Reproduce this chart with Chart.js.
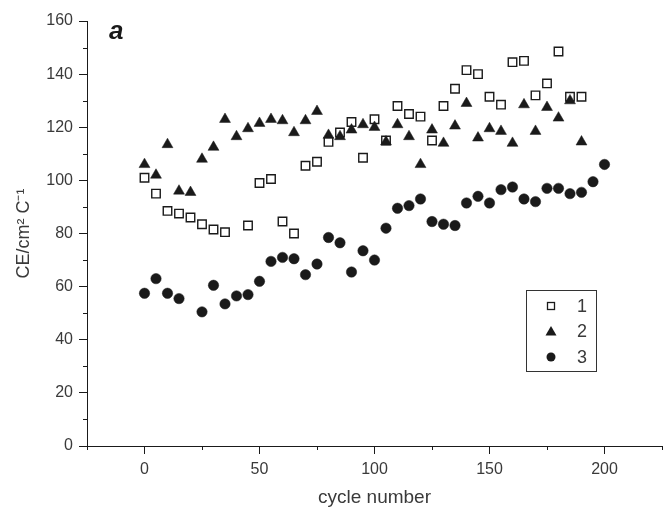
<!DOCTYPE html>
<html>
<head>
<meta charset="utf-8">
<script src="https://cdn.jsdelivr.net/npm/chart.js@4.4.1/dist/chart.umd.min.js"></script>
<style>
  html, body { margin: 0; padding: 0; background: #fff; overflow: hidden; }
  #wrap { width: 663px; height: 509px; }
</style>
</head>
<body>
<div id="wrap"><canvas id="ceChart" width="663" height="509"></canvas></div>
<script>
// CE per cycle, three samples
const cycles1 = [0, 5, 10, 15, 20, 25, 30, 35, 45, 50, 55, 60, 65, 70, 75, 80, 85, 90, 95, 100,
                 105, 110, 115, 120, 125, 130, 135, 140, 145, 150, 155, 160, 165, 170, 175, 180, 185, 190];
const ce1 = [101, 95, 88.5, 87.5, 86, 83.5, 81.5, 80.5, 83, 99, 100.5, 84.5, 80, 105.5, 107, 114.5, 118, 122, 108.5, 123,
             115, 128, 125, 124, 115, 128, 134.5, 141.5, 140, 131.5, 128.5, 144.5, 145, 132, 136.5, 148.5, 131.5, 131.5];

const cycles2 = [0, 5, 10, 15, 20, 25, 30, 35, 40, 45, 50, 55, 60, 65, 70, 75, 80, 85, 90, 95,
                 100, 105, 110, 115, 120, 125, 130, 135, 140, 145, 150, 155, 160, 165, 170, 175, 180, 185, 190];
const ce2 = [106, 102, 113.5, 96, 95.5, 108, 112.5, 123, 116.5, 119.5, 121.5, 123, 122.5, 118, 122.5, 126, 117, 116.5, 119, 121,
             120, 114.5, 121, 116.5, 106, 119, 114, 120.5, 129, 116, 119.5, 118.5, 114, 128.5, 118.5, 127.5, 123.5, 130, 114.5];

const cycles3 = [0, 5, 10, 15, 25, 30, 35, 40, 45, 50, 55, 60, 65, 70, 75, 80, 85, 90, 95, 100,
                 105, 110, 115, 120, 125, 130, 135, 140, 145, 150, 155, 160, 165, 170, 175, 180, 185, 190, 195, 200];
const ce3 = [57.5, 63, 57.5, 55.5, 50.5, 60.5, 53.5, 56.5, 57, 62, 69.5, 71, 70.5, 64.5, 68.5, 78.5, 76.5, 65.5, 73.5, 70,
             82, 89.5, 90.5, 93, 84.5, 83.5, 83, 91.5, 94, 91.5, 96.5, 97.5, 93, 92, 97, 97, 95, 95.5, 99.5, 106];

const seriesNames = ['1', '2', '3'];

// axis ticks
const xMajorTicks = [0, 50, 100, 150, 200];
const xMinorTicks = [-25, 25, 75, 125, 175, 225];
const yMajorTicks = [0, 20, 40, 60, 80, 100, 120, 140, 160];
const yMinorTicks = [10, 30, 50, 70, 90, 110, 130, 150];

const ink = '#1a1a1a';
const textGrey = '#3a3a3a';
const fontFamily = "'Liberation Sans', Arial, sans-serif";

function toPoints(xs, ys) {
    return xs.map((x, i) => ({ x: x, y: ys[i] }));
}

// short ticks between the labelled ones
const minorTicksPlugin = {
    id: 'minorTicks',
    afterDraw(chart) {
        const ctx = chart.ctx;
        const xs = chart.scales.x;
        const ys = chart.scales.y;
        ctx.save();
        ctx.strokeStyle = ink;
        ctx.lineWidth = 1;
        ctx.beginPath();
        xMinorTicks.forEach(v => {
            const px = Math.round(xs.getPixelForValue(v)) + 0.5;
            ctx.moveTo(px, ys.bottom);
            ctx.lineTo(px, ys.bottom + 4);
        });
        yMinorTicks.forEach(v => {
            const py = Math.round(ys.getPixelForValue(v)) + 0.5;
            ctx.moveTo(xs.left, py);
            ctx.lineTo(xs.left - 4, py);
        });
        ctx.stroke();
        ctx.restore();
    }
};

// panel letter and boxed legend
const panelPlugin = {
    id: 'panel',
    afterDraw(chart) {
        const ctx = chart.ctx;
        ctx.save();
        ctx.fillStyle = ink;
        ctx.font = "italic bold 26px " + fontFamily;
        ctx.textBaseline = 'alphabetic';
        ctx.fillText('a', 109, 39);

        // legend box
        const bx = 526.5, by = 290.5, bw = 70, bh = 81;
        ctx.strokeStyle = '#333';
        ctx.lineWidth = 1;
        ctx.strokeRect(bx, by, bw, bh);

        const mx = 551;
        const rows = [306, 331.5, 357];
        // square
        ctx.lineWidth = 1.3;
        ctx.strokeStyle = ink;
        ctx.strokeRect(mx - 3.5, rows[0] - 3.5, 7, 7);
        // triangle
        ctx.beginPath();
        ctx.moveTo(mx, rows[1] - 5.5);
        ctx.lineTo(mx + 5.5, rows[1] + 4);
        ctx.lineTo(mx - 5.5, rows[1] + 4);
        ctx.closePath();
        ctx.fill();
        // circle
        ctx.beginPath();
        ctx.arc(mx, rows[2], 4.5, 0, Math.PI * 2);
        ctx.fill();

        ctx.fillStyle = textGrey;
        ctx.font = "18px " + fontFamily;
        ctx.textBaseline = 'middle';
        seriesNames.forEach((name, i) => ctx.fillText(name, 577, rows[i] + 1));
        ctx.restore();
    }
};

const ceCtx = document.getElementById('ceChart').getContext('2d');
new Chart(ceCtx, {
    type: 'scatter',
    data: {
        datasets: [
            {
                label: seriesNames[0],
                data: toPoints(cycles1, ce1),
                pointStyle: 'rect',
                pointRadius: 6,
                borderWidth: 1.4,
                borderColor: ink,
                backgroundColor: 'rgba(0,0,0,0)'
            },
            {
                label: seriesNames[1],
                data: toPoints(cycles2, ce2),
                pointStyle: 'triangle',
                pointRadius: 6.3,
                borderWidth: 0.5,
                borderColor: ink,
                backgroundColor: ink
            },
            {
                label: seriesNames[2],
                data: toPoints(cycles3, ce3),
                pointStyle: 'circle',
                pointRadius: 5.2,
                borderWidth: 0.5,
                borderColor: ink,
                backgroundColor: ink
            }
        ]
    },
    options: {
        responsive: false,
        animation: false,
        layout: {
            autoPadding: false, // otherwise the point radius eats into the right edge
            padding: { top: 21, right: 1, left: 0, bottom: 0 }
        },
        plugins: {
            legend: { display: false },
            tooltip: { enabled: false }
        },
        scales: {
            x: {
                type: 'linear',
                min: -25,
                max: 225,
                afterBuildTicks: scale => { scale.ticks = xMajorTicks.map(v => ({ value: v })); },
                afterFit: scale => {
                    scale.height = 63;
                    scale.paddingLeft = 0;
                    scale.paddingRight = 0;
                },
                grid: { drawOnChartArea: false, drawTicks: true, tickLength: 8, color: ink },
                border: { display: true, color: ink, width: 1 },
                ticks: {
                    autoSkip: false,
                    maxRotation: 0,
                    padding: 6,
                    color: textGrey,
                    font: { family: fontFamily, size: 16 }
                },
                title: {
                    display: true,
                    text: 'cycle number',
                    color: textGrey,
                    font: { family: fontFamily, size: 19 },
                    padding: { top: 0, bottom: 0 }
                }
            },
            y: {
                type: 'linear',
                min: 0,
                max: 160,
                afterBuildTicks: scale => { scale.ticks = yMajorTicks.map(v => ({ value: v })); },
                afterFit: scale => { scale.width = 87; },
                grid: { drawOnChartArea: false, drawTicks: true, tickLength: 8, color: ink },
                border: { display: true, color: ink, width: 1 },
                ticks: {
                    autoSkip: false,
                    padding: 6,
                    color: textGrey,
                    font: { family: fontFamily, size: 16 }
                },
                title: {
                    display: true,
                    text: 'CE/cm\u00B2 C\u207B\u00B9',
                    color: textGrey,
                    font: { family: fontFamily, size: 18 },
                    padding: { top: 13, bottom: 0 }
                }
            }
        }
    },
    plugins: [minorTicksPlugin, panelPlugin]
});
</script>
</body>
</html>
